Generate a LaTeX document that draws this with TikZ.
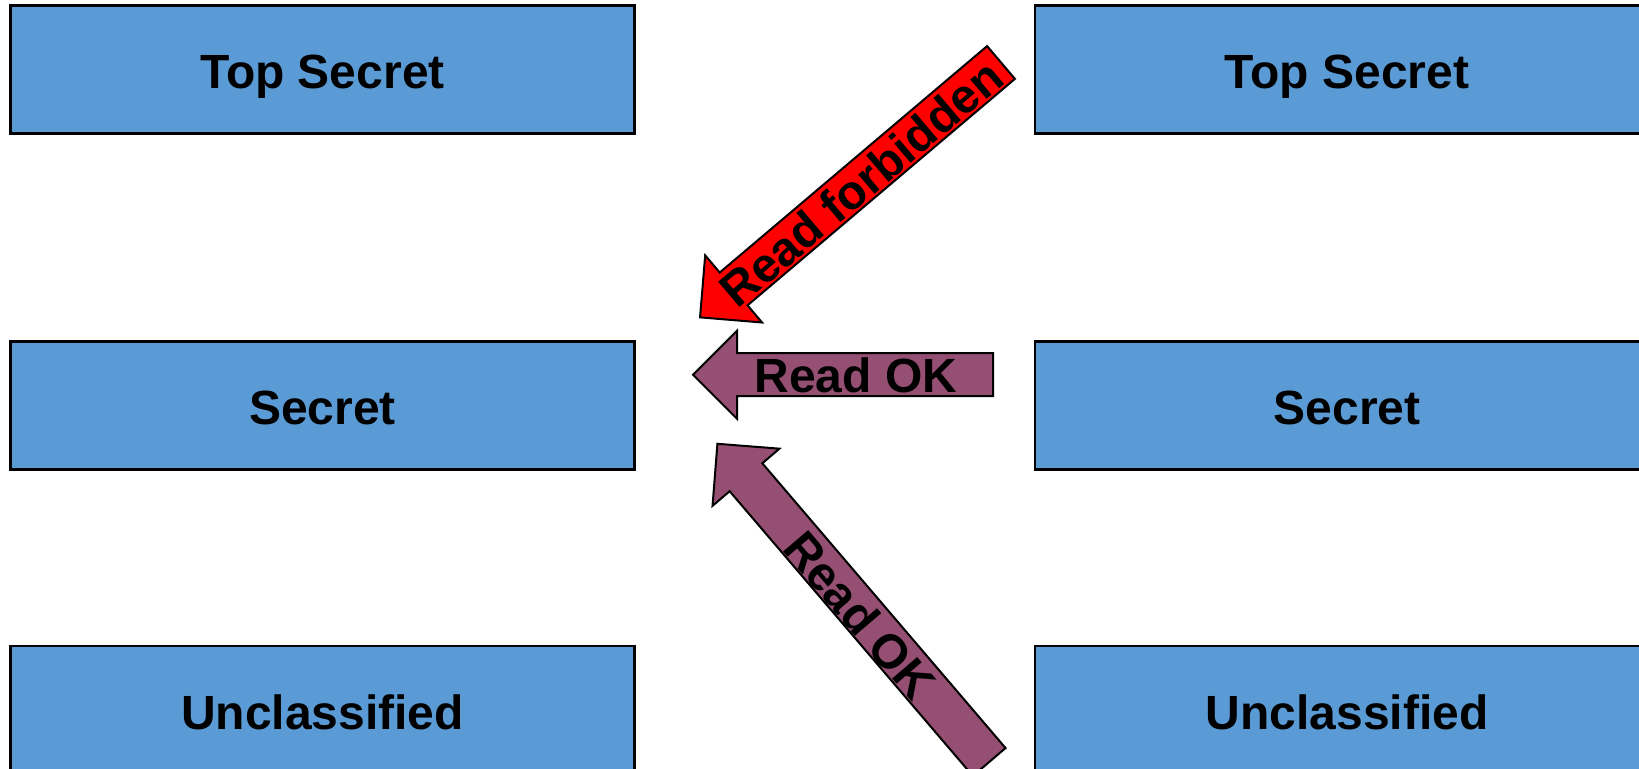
\documentclass[tikz,border=0pt]{standalone}
\usepackage{fontspec}
\setmainfont{Liberation Sans}
\begin{document}
\begin{tikzpicture}[x=0.5pt,y=-0.5pt,
  level/.style={draw=black, line width=1.1pt, fill=levelblue,
    minimum width=312pt, minimum height=64pt, inner sep=0pt,
    text height=19.5pt, text depth=0pt,
    font=\bfseries\fontsize{24}{28}\selectfont},
  arrowlabel/.style={inner sep=0pt, font=\bfseries\fontsize{24}{28}\selectfont},
  blockarrow/.style={draw=black, line width=1pt, line join=miter}]
\definecolor{levelblue}{HTML}{5B9BD5}
\definecolor{okpurple}{HTML}{954F72}
\definecolor{forbidred}{HTML}{FF0000}
% block arrow along local +x: tail at origin, tip at x = #1
\newcommand\arrowoutline[1]{(0,-21.5) -- ({#1-44},-21.5) -- ({#1-44},-44) -- (#1,0)
  -- ({#1-44},44) -- ({#1-44},21.5) -- (0,21.5) -- cycle}

\clip (0,0) rectangle (1639,769);
\useasboundingbox (0,0) rectangle (1639,769);

% security levels, source column
\node[level] (lts) at (322.5,69.5) {Top Secret};
\node[level] (lsc) at (322.5,405.5) {Secret};
\node[level] (lun) at (322.5,710) {Unclassified};
% security levels, object column
\node[level] (rts) at (1347,69.5) {Top Secret};
\node[level] (rsc) at (1347,405.5) {Secret};
\node[level] (run) at (1347,710) {Unclassified};

% read up: forbidden
\begin{scope}[shift={(1001,62.5)}, rotate=220.26]
  \filldraw[blockarrow, fill=forbidred] \arrowoutline{394.4};
\end{scope}
\node[arrowlabel, rotate=40.26] (rf) at (861,183) {Read forbidden};

% read same level: ok
\begin{scope}[shift={(993,374.7)}, rotate=180]
  \filldraw[blockarrow, fill=okpurple] \arrowoutline{300};
\end{scope}
\node[arrowlabel] (rok1) at (856,375) {Read OK};

% read down: ok
\begin{scope}[shift={(989.2,762)}, rotate=130.5]
  \filldraw[blockarrow, fill=okpurple] \arrowoutline{418.5};
\end{scope}
\node[arrowlabel, rotate=-49.5] (rok2) at (860,615) {Read OK};
\end{tikzpicture}
\end{document}
